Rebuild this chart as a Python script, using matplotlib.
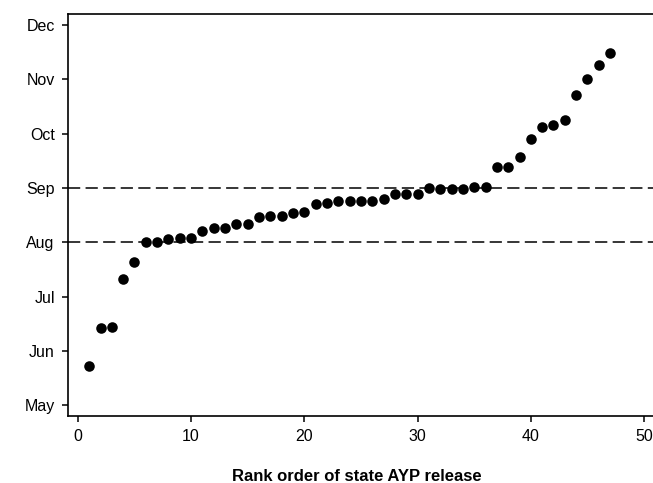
import matplotlib
matplotlib.use("Agg")
import matplotlib.pyplot as plt

plt.rcParams["font.family"] = ["Liberation Sans", "DejaVu Sans"]

# release date for each state, in months after 1 May (May=0 ... Dec=7)
rank = list(range(1, 48))
release = [0.72, 1.42, 1.44, 2.32, 2.63, 3.01, 3.01, 3.06, 3.08, 3.08,
           3.21, 3.27, 3.27, 3.33, 3.33, 3.46, 3.49, 3.49, 3.53, 3.56,
           3.70, 3.73, 3.76, 3.76, 3.76, 3.76, 3.79, 3.89, 3.89, 3.89,
           3.99, 3.98, 3.98, 3.98, 4.01, 4.01, 4.38, 4.38, 4.57, 4.90,
           5.13, 5.15, 5.25, 5.71, 6.00, 6.26, 6.48]
months = ["May", "Jun", "Jul", "Aug", "Sep", "Oct", "Nov", "Dec"]
xticks = [0, 10, 20, 30, 40, 50]
ref_lines = [3, 4]  # Aug, Sep

fig = plt.figure(figsize=(6.53, 4.83), dpi=100)
ax = fig.add_axes([0.104, 0.1387, 0.917, 0.832])

ax.plot(rank, release, "o", color="black", ms=7.6, mew=0)
for y in ref_lines:
    ax.axhline(y, color="black", lw=1.1, dashes=(8, 3.5))

ax.set_xlim(-0.88, 52)
ax.set_ylim(-0.2, 7.2)
ax.set_xticks(xticks)
ax.set_yticks(range(len(months)))
ax.set_yticklabels(months)
ax.tick_params(axis="both", labelsize=11.5, direction="out", length=4.5,
               width=1.1, color="black")
ax.tick_params(axis="x", pad=5)
ax.tick_params(axis="y", pad=5)
for s in ax.spines.values():
    s.set_linewidth(1.2)

ax.set_xlabel("Rank order of state AYP release", fontsize=12, fontweight="bold")
ax.xaxis.set_label_coords(0.482, -0.132)

fig.savefig("out.png", dpi=100)
